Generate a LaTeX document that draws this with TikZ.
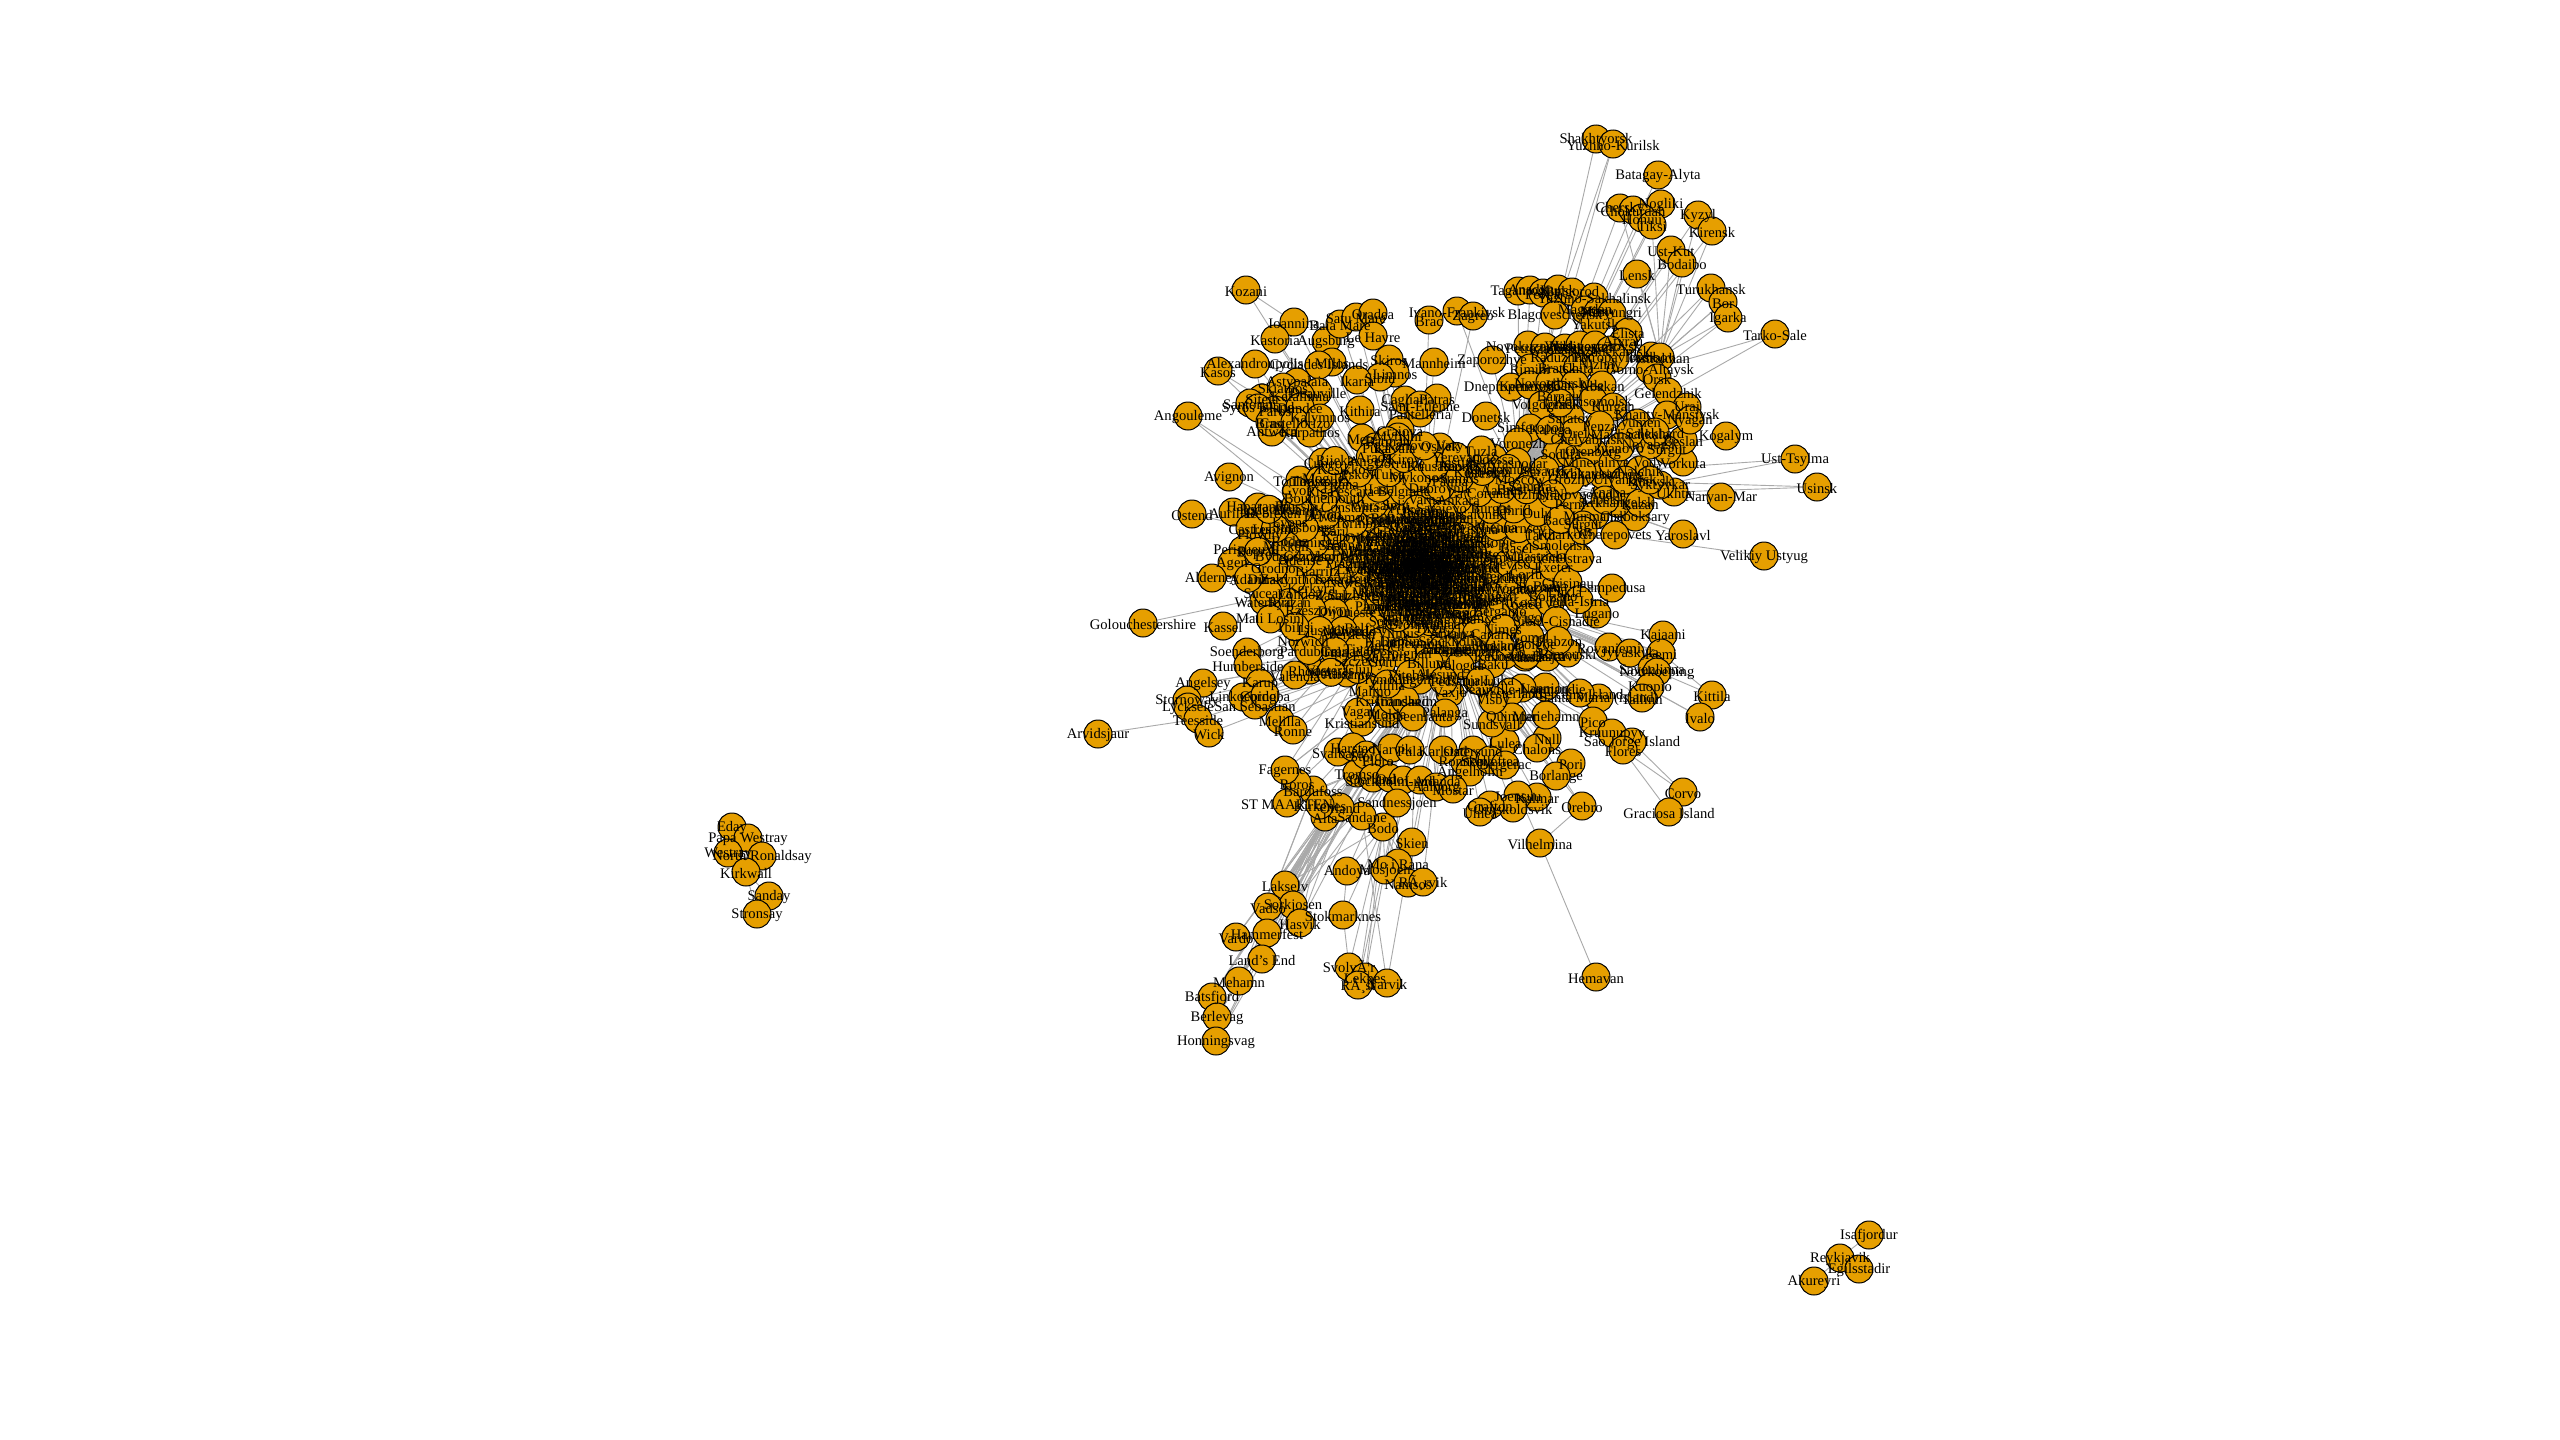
\documentclass[tikz,border=0pt]{standalone}
\usepackage{fontspec}
\setmainfont{Liberation Serif}
\tikzset{
  anch/.style={circle,minimum size=28pt,inner sep=0pt,outer sep=0pt},
  vtx/.style={circle,draw=black,fill=vcol,line width=1pt,minimum size=28pt,inner sep=0pt,outer sep=0pt},
  vlab/.style={inner sep=0pt,outer sep=0pt,text=black,yshift=-1.3pt,font=\fontsize{14.6}{15}\selectfont},
  lnk/.style={draw=lcol,line width=0.9pt}
}
\definecolor{vcol}{HTML}{E69F00}
\definecolor{lcol}{HTML}{A9A9A9}
% id / x / y / label / hub
\def\hubs{
mos/1520/478/Moscow/par,par/1420/565/Paris/mos,sto/1450/640/Stockholm/par,hel/1482/596/Helsinki/par,
tro/1357/773/Tromso/sto,alt/1325/817/Alta/tro,bdo/1383/827/Bodo/sto}
\def\north{
sha/1596/139/Shakhtyorsk/mos,yuz/1613/144/Yuzhno-Kurilsk/mos,bat/1658/175/Batagay-Alyta/mos,
che/1620/208/Chersky/mos,cho/1633/210/Chokurdah/mos,nog/1661/204/Nogliki/mos,hon/1642/218/Honuu/mos,
tik/1652/225/Tiksi/mos,kyz/1698/215/Kyzyl/mos,kie/1712/231/Kirensk/mos,usk/1671/250/Ust-Kut/mos,
bdb/1682/263/Bodaibo/mos,len/1637/274/Lensk/mos,tuk/1711/288/Turukhansk/mos,bor/1723/302/Bor/mos,
iga/1728/318/Igarka/mos,tar/1775/334/Tarko-Sale/mos,tag/1518/291/Taganrog/mos,ana/1530/290/Anadyr/mos,
pev/1543/293/Pevek/mos,kur/1558/289/Kursk/mos,bel/1572/292/Belgorod/mos,ysa/1594/297/Yuzhno-Sakhalinsk/mos,
bla/1555/315/Blagoveschensk/mos,mag/1585/310/Magadan/mos,mir/1598/312/Mirny/mos,ner/1612/313/Neryungri/mos,
yak/1595/323/Yakutsk/mos,eli/1628/332/Elista/mos,aty/1623/342/Atyrau/mos,tam/1651/356/Tambov/mos,
ast/1660/357/Astrakhan/mos,gor/1650/370/Gorno-Altaysk/mos,ors/1657/378/Orsk/mos,gel/1668/392/Gelendzhik/mos,
nvk/1528/345/Novokuznetsk/mos,pal/1545/347/Petrozavodsk/mos,kha/1565/348/Khabarovsk/mos,vla/1580/345/Vladivostok/mos,
nzv/1595/345/Nizhnevartovsk/mos,nis/1610/350/Nizhnekamsk/mos,rad/1560/358/Raduzhny/mos,per/1615/358/Petropavlovsk/mos,
nir/1600/365/Nizhny/mos,zap/1492/360/Zaporozhye/mos,dne/1511/387/Dnepropetrovsk/mos,rim/1530/368/Rimini/mos,
bra/1557/367/Bratsk/mos,chi/1578/367/Chita/mos,kem/1530/385/Kemerovo/mos,nvs/1550/382/Novosibirsk/mos,
ulu/1575/384/Ulan-Ude/mos,aba/1602/385/Abakan/mos,ban/1560/395/Barnaul/mos,kog/1726/436/Kogalym/mos,
tsy/1795/459/Ust-Tsylma/mos,usi/1817/487/Usinsk/mos,nar/1721/497/Naryan-Mar/mos,vor/1683/462/Vorkuta/mos,
ukh/1674/492/Ukhta/mos,bes/1683/440/Beslan/mos,ura/1687/407/Uraj/mos,yar/1683/534/Yaroslavl/mos,
chb/1635/517/Cheboksary/mos,crp/1615/535/Cherepovets/mos,krk/1563/533/Kharkov/mos,vus/1764/556/Velikiy Ustyug/crp,
don/1486/416/Donetsk/mos,vol/1542/405/Volgograd/mos,sim/1530/428/Simferopol/mos,vrn/1518/442/Voronezh/mos,
ode/1493/458/Odessa/mos,soc/1557/453/Sochi/mos,kra/1517/462/Krasnodar/mos,ros/1490/468/Rostov/mos,
sam/1530/485/Samara/mos,nnv/1560/495/Nizhny Novgorod/mos,prm/1570/503/Perm/mos,anp/1607/493/Anapa/mos,
ark/1617/503/Arkhangelsk/mos,kaz/1640/503/Kazan/mos,syk/1660/485/Syktyvkar/mos,kma/1667/415/Khanty-Mansiysk/mos,
nya/1690/420/Nyagan/mos,sur/1667/450/Surgut/mos,nyb/1650/445/Noyabrsk/mos,tyu/1637/423/Tyumen/mos,ufa/1570/453/Ufa/mos,
ore/1593/452/Orenburg/mos,che2/1587/440/Chelyabinsk/mos,yek/1603/475/Yekaterinburg/mos,sar/1570/417/Saratov/mos,
tom/1560/403/Tomsk/mos,kmr/1593/400/Komsomolsk/mos,kgn/1613/407/Kurgan/mos,mak/1630/433/Makhachkala/mos,
min/1613/463/Mineralnye Vody/mos,mur/1595/515/Murmansk/mos,nal/1640/470/Nalchik/mos,sal/1655/432/Salekhard/mos,
sur2/1583/525/Surgut/mos,ulk/1625/480/Ulyanovsk/mos,vla2/1582/472/Vladikavkaz/mos,
pen/1600/425/Penza/mos,iva/1620/447/Ivanovo/mos,izh/1650/480/Izhevsk/mos,ori/1575/432/Orel/mos,
sak/1545/470/Saransk/mos,kal/1550/430/Kaluga/mos,lip/1605/500/Lipetsk/mos,gro/1570/480/Grozny/mos}
\def\west{
koz/1246/290/Kozani/par,ioa/1294/322/Ioannina/par,kas/1275/339/Kastoria/par,aug/1326/341/Augsburg/par,
bai/1340/324/Baia Mare/par,sat/1356/317/Satu Mare/par,ora/1373/313/Oradea/par,leh/1373/336/Le Havre/par,
ivf/1457/311/Ivano-Frankivsk/mos,brc/1429/320/Brac/par,zag/1473/316/Zagreb/par,man/1434/362/Mannheim/par,
ptr/1437/398/Patras/par,ski/1389/359/Skiros/par,lim/1395/373/Limnos/par,sib/1380/377/Sibiu/par,ika/1357/380/Ikaria/par,
mil/1332/362/Milos/par,cyc/1319/365/Cyclades Islands/par,ale/1255/364/Alexandroupolis/par,kss/1218/371/Kasos/sit,
sit/1262/398/Siteia/par,asy/1297/382/Astypalaia/par,sks/1283/387/Skiathos/par,dea/1318/392/Deauville/par,
kef/1300/395/Kefallinia/par,par2/1275/410/Paros/par,san/1250/403/Santorini/par,sya/1258/408/Syros Island/par,
ang/1188/416/Angouleme/par,avi/1229/477/Avignon/par,ost/1192/514/Ostend/par,aur/1233/512/Aurillac/par,
deb/1273/512/Debrecen/par,hat/1258/507/Haparanda/par,plo/1260/533/Plovdiv/par,cst/1250/528/Castres/par,
lyo/1290/523/Lyons/par,pru/1296/505/Prussia/par,pgx/1243/550/Perigueux/par,age/1232/563/Agen/par,ald/1212/578/Alderney/par,
din/1268/578/Dinard/par,byd/1287/557/Bydgoszcz/par,gib/1310/555/Gibraltar/par,wat/1264/601/Waterford/par,
glo/1143/623/Golouchestershire/par,ksl/1223/626/Kassel/par,lon/1300/593/London/par,nor/1303/640/Norwich/sto,
soe/1247/652/Soenderborg/sto,hum/1248/665/Humberside/sto,kar/1260/683/Karup/sto,ags/1203/683/Angelsey/sto,
stw/1187/700/Stornoway/sto,lin/1243/697/Linkoeping/sto,met/1362/438/Metz/par,dun/1300/407/Dundee/par,
ant/1272/432/Antwerp/par,bno/1270/422/Brno/par,cas/1295/422/Castellorizo/par,ktp/1310/433/Karpathos/par,
cun/1323/462/Cuneo/par,kly/1320/418/Kalymnos/par,kit/1360/410/Kithira/par,cag/1405/400/Cagliari/par,pan/1420/413/Pantelleria/par,
set/1420/405/Saint-Etienne/par,cra/1400/430/Craiova/par,myt/1398/437/Mytilini/par,pul/1375/447/Pula/par,
kav/1395/447/Kavala/par,osi/1440/447/Osijek/par,lor/1400/462/Lorraine/par,ren/1460/465/Rennes/par,ang2/1370/462/Angers/par,
pal2/1450/480/Palma/par,has/1460/463/Hastings/par,bre/1480/472/Brest/par,tou/1300/480/Toulouse/par,
tim/1320/480/Timisoara/par,tip/1340/483/Tirana/par,kes/1345/470/Kesikkoy/par,rie/1320/492/Riga/par,bri/1320/515/Brive/par,
com/1345/516/Como/par,ren2/1290/540/Rodez/par,kat/1350/535/Katowice/par,
lug/1597/614/Lugano/hel,lam/1612/588/Lampedusa/hel,luk/1565/591/Lukla/hel,bol/1553/595/Bolzano/hel,bni/1550/585/Bania/hel,
kos/1521/603/Kosice/hel,lri/1538/557/Lorient/par,bal/1505/577/Batumi/hel,hlk/1490/588/Helsinki-Vantaa/hel}
\def\south{
kaj/1663/635/Kajaani/hel,rov/1609/647/Rovaniemi/hel,jyv/1630/653/Jyvaskyla/hel,kem2/1661/653/Kemi/hel,
sav/1652/668/Savonlinna/hel,nrk/1657/672/Norrkoeping/hel,kuo/1650/687/Kuopio/hel,kil/1712/695/Kittila/hel,
iva2/1700/717/Ivalo/hel,tal/1642/698/Tallinn/hel,smi/1599/698/Santa Maria (island)/hel,ter/1580/693/Terceira Island/hel,
pic/1593/721/Pico/hel,kru/1612/733/Kruunupyy/hel,sjo/1632/742/Sao Jorge Island/pic,flo/1623/750/Flores/pic,
cov/1683/792/Corvo/flo,gra/1669/812/Graciosa Island/flo,por/1571/763/Pori/sto,bln/1556/776/Borlange/sto,
ore2/1582/806/Orebro/sto,vil/1540/843/Vilhelmina/sto,hem/1596/977/Hemavan/vil,nul/1547/738/Null/sto,
cha/1537/748/Chalons/sto,mar/1546/715/Mariehamn/sto,lan/1545/687/Lannion/sto,dei/1522/688/Deauville-Normandie/sto,
wad/1510/692/Westerland/sto,lul/1505/742/Lulea/sto,qui/1512/717/Quimper/sto,kmr2/1537/797/Kalmar/sto,
joe/1518/795/Joensuu/sto,orn/1513/808/Ornskoldsvik/sto,gra2/1490/805/Grafton/sto,ume/1480/812/Umea/sto,
sun/1492/723/Sundsvall/sto,vis/1493/700/Visby/sto,vaa/1525/657/Vaasa/sto,pud/1547/657/Pudasjarvi/sto,
ram/1568/653/Rimouski/sto,dol/1535/645/Dolgoe/sto,kll/1505/655/Kelloselka/sto,tur2/1477/680/Turku/sto,
vax/1450/693/Vaxjo/sto,ost2/1473/750/Ostersund/sto,ron/1465/762/Ronneby/sto,ang3/1470/772/Angelholm/sto,
sky/1490/760/Skelleftea/sto,bru/1505/765/Bergerac/sto,lub/1475/645/Lublin/sto,kok/1500/645/Kokkola/sto,
ber/1455/650/Bergen/sto,tmp/1445/650/Tampere/sto,ale2/1440/673/Alesund/sto,kla/1420/680/Klagenfurt/sto,
vas/1330/670/Vasteras/sto,alc/1347/673/Alicante/sto,abe/1347/633/Aberdeen/sto,gra3/1345/650/Granada/sto,
fra/1380/655/Frankfurt/sto,zur/1385/645/Zurich/sto,ove/1355/630/Oviedo/sto,sze/1360/660/Szczecin/sto,
dub/1400/640/Dublin/sto,ply/1385/680/Plymouth/sto,mal/1370/690/Malmo/sto,rho/1310/670/Rhodes/sto,
vls/1295/675/Valencia/sto,lyc/1188/707/Lycksele/sto,tee/1198/719/Teesside/sto,wic/1209/733/Wick/sto,
arv/1098/734/Arvidsjaur/tee,ssb/1255/705/San Sebastian/sto,mel/1280/720/Melilla/sto,ron2/1293/730/Ronne/sto,
crd/1265/695/Cordoba/sto,kri2/1362/722/Kristiansund/sto,vag/1358/712/Vagar/sto,mol/1387/713/Molde/sto,
kkr/1392/700/Kristiansand/sto,tur3/1405/700/Trondheim/sto,lap/1413/717/Lappeenranta/sto,pla/1445/713/Palanga/sto,
sva/1338/752/Svalbard/sto,hrs/1353/747/Harstad/sto,sto2/1366/755/Stord/sto,flr/1378/760/Floro/sto,
nvk2/1392/748/Narvik/sto,pur/1410/750/Pula/sto,krl/1443/750/Karlstad/sto,oer/1373/778/Oerland/sto,
osl/1390/778/Oslo/sto,sth/1403/780/Stockholm-Arlanda/sto,lus/1420/780/Lund/sto,
aal/1436/787/Aalborg/sto,mos2/1453/789/Mostar/sto,snd/1397/803/Sandnessjoen/sto,sdn/1362/816/Sandane/sto,
orl/1340/807/Orland/tro,bar/1313/790/Bardufoss/tro,ros2/1297/783/Roros/sto,fag/1285/770/Fagernes/sto,
stm/1287/803/ST MAARTEN/tro,kkn/1320/805/Kirkenes/tro,
skn/1412/842/Skien/sto,moi/1398/863/Mo i Rana/bdo,mjo/1385/870/Mosjoen/bdo,nam/1408/883/Namsos/bdo,
rvk/1423/882/RÃ¸rvik/bdo,and/1347/871/Andoya/bdo,lak/1285/885/Lakselv/tro,srk/1293/905/Sorkjosen/tro,
vds/1268/907/Vadso/tro,hmf/1267/933/Hammerfest/tro,hsv/1300/923/Hasvik/alt,vrd/1236/937/Vardo/tro,
stk/1343/915/Stokmarknes/and,lnd/1262/959/Land's End/tro,meh/1239/981/Mehamn/tro,bat2/1212/997/Batsfjord/tro,
brl/1217/1017/Berlevag/tro,hon2/1216/1041/Honningsvag/tro,svo/1349/967/SvolvÃ¦r/stk,lek/1365/977/Leknes/bdo,
rst/1358/985/RÃ¸st/bdo,nrv/1387/983/Narvik/sdn}
\def\isles{
eda/732/827/Eday/kir,pap/748/838/Papa Westray/kir,wes/728/853/Westray/kir,nro/762/856/North Ronaldsay/kir,
kir/746/872/Kirkwall/nro,sny/769/896/Sanday/kir,str/757/914/Stronsay/kir,
isa/1869/1235/Isafjordur/rey,rey/1840/1258/Reykjavik/egi,egi/1859/1269/Egilsstadir/rey,aku/1814/1281/Akureyri/rey}
\def\core{Amsterdam,Athens,Barcelona,Berlin,Bilbao,Birmingham,Bologna,Bordeaux,Bremen,Bristol,Brussels,Bucharest,Budapest,Cardiff,Catania,Cologne,Copenhagen,Cork,Dortmund,Dresden,Dusseldorf,Edinburgh,Eindhoven,Faro,Florence,Funchal,Gdansk,Geneva,Genoa,Glasgow,Gothenburg,Graz,Hamburg,Hannover,Heraklion,Ibiza,Innsbruck,Inverness,Istanbul,Izmir,Jersey,Kaunas,Kiev,Krakow,Larnaca,Leeds,Leipzig,Lille,Linz,Lisbon,Liverpool,Ljubljana,Luxembourg,Lviv,Madrid,Malaga,Malta,Marseille,Milan,Minsk,Munich,Nantes,Naples,Newcastle,Nice,Nuremberg,Olbia,Palermo,Paphos,Pisa,Porto,Prague,Pristina,Reykjanes,Rome,Rotterdam,Salzburg,Sarajevo,Seville,Shannon,Skopje,Sofia,Split,Stuttgart,Tenerife,Thessaloniki,Tirgu,Torino,Treviso,Trieste,Varna,Venice,Verona,Vienna,Vilnius,Warsaw,Wroclaw,Zadar,Ankara,Antalya,Bari,Basel,Belfast,Belgrade,Bergamo,Biarritz,Burgas,Clermont,Constanta,Corfu,Dijon,Dubrovnik,Gran Canaria,Groningen,Guernsey,Hahn,Iasi,Kos,Kerkyra,La Coruna,Lanzarote,Lyon,Maastricht,Mahon,Mykonos,Nimes,Odense,Ohrid,Perpignan,Pescara,Poznan,Rzeszow,Samos,Santander,Strasbourg,Tartu,Tivat,Tulsa,Vigo,Zakynthos,Aarhus,Billund,Bournemouth,Exeter,Ljusdal,Kuusamo,Kajana,Mikkeli,Oulu,Sylt,Pskov,Tver,Ryazan,Kostroma,Vologda,Bryansk,Smolensk,Tula,Kirov,Gomel,Grodno,Brest-Bug,Vitebsk,Mogilev,Chisinau,Tbilisi,Yerevan,Baku,Lublino,Bacau,Cluj,Arad,Sibiu-Cisnadie,Suceava,Maramures,Pecs,Gyor,Ostrava,Pardubice,Karlovy Vary,Kosice-Barca,Poprad,Sliac,Zilina,Rijeka,Pula-Istria,Mali Losinj,Tuzla,Banja Luka,Podgorica,Nis,Kutaisi,Batman,Trabzon,Adana}
\def\coreb{Alicante-Elche,Almeria,Asturias,Bergen-Flesland,Bodrum,Bratislava,Brindisi,Caen,Calvi,Chania,Craiova-Dolj,Dalaman,Derry,Doncaster,East Midlands,Erfurt,Fuerteventura,Friedrichshafen,Gatwick,Gerona,Girona,Heathrow,Hurghada,Jerez,Kalamata,Karlsruhe,Kefalonia,Kittilae,Klaipeda,Kerry,La Palma,Lamezia,Lappi,Limoges,Luton,Lourdes,Lubeck,Menorca,Metz-Nancy,Montpellier,Murcia,Munster,Ajaccio,Bastia,Paderborn,Palanga-Liepaja,Pau,Poitiers,Reus,Riga-Intl,Rostock,Saarbrucken,Salerno,Santiago,Schiphol,Stansted,Szeged,Tallinn-Ulemiste,Tampere-Pirkkala,Teruel,Tours,Trapani,Valladolid,Vaernes,Vitoria,Weeze,Zaragoza,Zagreb-Pleso,Agadir,Bodo-Vagar,Cagliari-Elmas,Carcassonne,Dole,Figari,Grenoble,Kalibo,Lleida,Memmingen,Ancona,Bolzano-Dolomiti,Perugia,Parma,Rimini-Fellini,Tarbes,Vaxjo-Smaland,Westerwald,Kiruna,Skovde,Halmstad,Jonkoping,Sturup,Torslanda,Mora,Arlanda,Bromma,Gardermoen,Sola,Kastrup,Vagan,Vantaa,Pirkkala,Ulemiste,Spilve,Okecie,Ruzyne}
\newcommand{\eachv}[1]{%
  \foreach \i/\x/\y/\t/\h in \hubs {#1}
  \foreach \i/\x/\y/\t/\h in \north {#1}
  \foreach \i/\x/\y/\t/\h in \west {#1}
  \foreach \i/\x/\y/\t/\h in \south {#1}
  \foreach \i/\x/\y/\t/\h in \isles {#1}}
\begin{document}
\begin{tikzpicture}[x=1pt,y=-1pt]
\fill[white] (0,0) rectangle (2560,1440);
\useasboundingbox (0,0) rectangle (2560,1440);
% named anchors of all vertices
\eachv{\node[anch] (\i) at (\x,\y) {};}
\foreach \t [count=\k] in \core {
  \pgfmathsetmacro{\rr}{150*pow(\k/195,0.85)}
  \pgfmathsetmacro{\aa}{10*mod(\k*13.7508,36)}
  \pgfmathsetmacro{\cx}{1420+1.15*\rr*cos(\aa)}
  \pgfmathsetmacro{\cy}{565+0.85*\rr*sin(\aa)}
  \node[anch] (core\k) at (\cx,\cy) {};
}
\foreach \t [count=\k] in \coreb {
  \pgfmathsetmacro{\rr}{pow(\k/105,0.55)}
  \pgfmathsetmacro{\aa}{10*mod(\k*13.7508,36)}
  \pgfmathsetmacro{\cx}{1425+50*\rr*cos(\aa)}
  \pgfmathsetmacro{\cy}{568+60*\rr*sin(\aa)}
  \node[anch] (inn\k) at (\cx,\cy) {};
}
% connectors
\eachv{\draw[lnk] (\i) -- (\h);}
\foreach \a/\b in {lak/sto,srk/sto,vds/sto,hmf/sto,hsv/sto,vrd/sto,lnd/sto,meh/sto,bat2/sto,brl/sto,hon2/sto,
  lak/osl,srk/osl,vds/alt,hmf/alt,vrd/alt,lnd/alt,meh/alt,bat2/alt,brl/alt,hon2/alt,
  lak/alt,srk/alt,vds/bar,meh/bar,lak/bdo,hsv/tro,
  fag/par,ros2/par,alt/sto,orl/sto,bar/sto,kkn/sto,sdn/sto,stk/bdo,svo/bdo,lek/snd,rst/snd,nrv/skn,moi/snd,mjo/sto,nam/sto,
  rvk/sto,and/sto,skn/par,flo/sto,sjo/hel,pic/sto,cov/sjo,kil/kem2,iva2/hel,rov/par,jyv/par,kem2/par,sav/par,kuo/par,
  tuk/ast,bor/ast,iga/ast,tar/gor,bdb/ast,usk/ast,kyz/ast,kie/ast,tik/ast,che/ast,yuz/bla,len/ast,tsy/syk,usi/ukh,yar/chb,
  kos/par,bol/par,lug/par,crp/par,krk/par,lam/par,ang/pru,kss/par,kss/ale,ale/sit,koz/ioa,
  soe/par,kar/par,hum/par,ags/sto,lin/par,nor/par,ssb/par,mel/par,ron2/par,fag/sto,kri2/par,vag/par,sva/par,hrs/par,krl/par,
  osl/par,sth/par,aal/par,mos2/par,por/par,bln/par,vil/ore2,ore2/par,nul/par,cha/par,mar/par,lan/par}{
  \draw[lnk] (\a) -- (\b);}
\foreach \k in {1,4,...,190} {\draw[lnk] (core\k) -- (par);}
\foreach \k in {1,6,...,101} {\draw[lnk] (inn\k) -- (par);}
% discs
\eachv{\node[vtx] (disc\i) at (\i) {};}
\foreach \t [count=\k] in \core {\node[vtx] (disccore\k) at (core\k) {};}
\foreach \t [count=\k] in \coreb {\node[vtx] (discinn\k) at (inn\k) {};}
% labels
\eachv{\node[vlab] (lab\i) at (\i) {\t};}
\foreach \t [count=\k] in \core {\node[vlab] (labcore\k) at (core\k) {\t};}
\foreach \t [count=\k] in \coreb {\node[vlab] (labinn\k) at (inn\k) {\t};}
\end{tikzpicture}
\end{document}
